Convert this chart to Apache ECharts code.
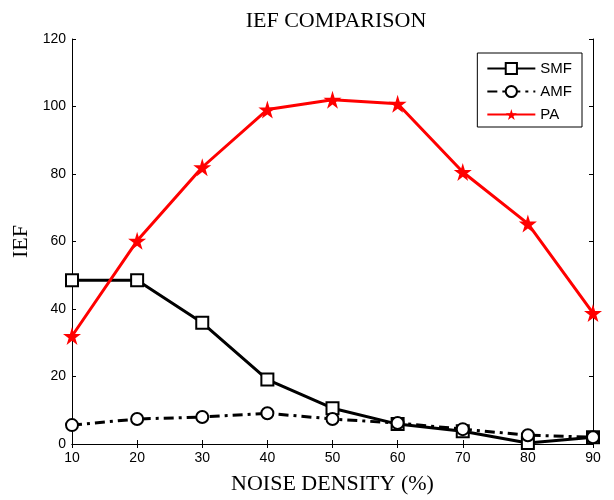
<!DOCTYPE html>
<html>
<head>
<meta charset="utf-8">
<script src="https://cdn.jsdelivr.net/npm/echarts@6/dist/echarts.min.js"></script>
<style>
  html, body { margin: 0; padding: 0; background: #fff; }
  #chart { width: 614px; height: 500px; }
</style>
</head>
<body>
<div id="chart"></div>
<script>
// noise density (%)
var noise = [10, 20, 30, 40, 50, 60, 70, 80, 90]
var smf = [48.5, 48.5, 35.9, 19.1, 10.6, 5.9, 3.8, 0.3, 2.0]
var amf = [5.6, 7.4, 8.0, 9.1, 7.4, 6.2, 4.4, 2.6, 2.0]
var pa = [32.0, 60.2, 82.0, 99.1, 102.0, 100.8, 80.6, 65.3, 38.8]

var star = 'path://M50,0 L61,35 L98,35 L68,57 L79,91 L50,70 L21,91 L32,57 L2,35 L39,35 Z'

function pairs(vals) {
  return noise.map(function (x, i) { return [x, vals[i]] })
}

var chart = echarts.init(document.getElementById('chart'))
var axisCommon = {
  axisLine: { show: true, lineStyle: { color: '#000', width: 1 } },
  axisTick: { show: true, inside: true, length: 4, lineStyle: { color: '#000' } },
  splitLine: { show: false }
}

chart.setOption({
  animation: false,
  title: {
    text: 'IEF COMPARISON',
    left: 331,
    top: 5,
    textAlign: 'center',
    textStyle: { fontFamily: 'Liberation Serif', fontWeight: 'normal', fontSize: 22, color: '#000' }
  },
  grid: { left: 72, right: 21, top: 39, bottom: 52 },
  legend: {
    orient: 'vertical',
    right: 32,
    top: 53,
    itemWidth: 48,
    itemHeight: 14,
    itemGap: 8,
    padding: [8, 10, 5, 9],
    borderColor: '#000',
    borderWidth: 1,
    backgroundColor: '#fff',
    textStyle: { fontFamily: 'Liberation Sans', fontSize: 15, color: '#000' },
    data: ['SMF', 'AMF', 'PA']
  },
  xAxis: [
    Object.assign({
      type: 'value', min: 10, max: 90, interval: 10,
      name: 'NOISE DENSITY (%)', nameLocation: 'middle', nameGap: 29,
      nameTextStyle: { fontFamily: 'Liberation Serif', fontSize: 22, color: '#000' },
      axisLabel: { fontFamily: 'Liberation Sans', fontSize: 14, color: '#000', margin: 7 }
    }, axisCommon),
    Object.assign({
      type: 'value', min: 10, max: 90, interval: 10, position: 'top',
      axisLabel: { show: false }
    }, axisCommon)
  ],
  yAxis: [
    Object.assign({
      type: 'value', min: 0, max: 120, interval: 20,
      name: 'IEF', nameLocation: 'middle', nameGap: 39,
      nameTextStyle: { fontFamily: 'Liberation Serif', fontSize: 22, color: '#000' },
      axisLabel: { fontFamily: 'Liberation Sans', fontSize: 14, color: '#000', margin: 6 }
    }, axisCommon),
    Object.assign({
      type: 'value', min: 0, max: 120, interval: 20, position: 'right',
      axisLabel: { show: false }
    }, axisCommon)
  ],
  series: [
    {
      name: 'SMF', type: 'line', data: pairs(smf),
      symbol: 'emptyRect', symbolSize: 12,
      itemStyle: { color: '#000', borderWidth: 3 },
      lineStyle: { color: '#000', width: 3 }
    },
    {
      name: 'AMF', type: 'line', data: pairs(amf),
      symbol: 'emptyCircle', symbolSize: 12,
      itemStyle: { color: '#000', borderWidth: 3 },
      lineStyle: { color: '#000', width: 3, type: [10, 5, 3, 5] }
    },
    {
      name: 'PA', type: 'line', data: pairs(pa),
      symbol: star, symbolSize: 18,
      itemStyle: { color: '#ff0000' },
      lineStyle: { color: '#ff0000', width: 3 }
    }
  ]
})
</script>
</body>
</html>
